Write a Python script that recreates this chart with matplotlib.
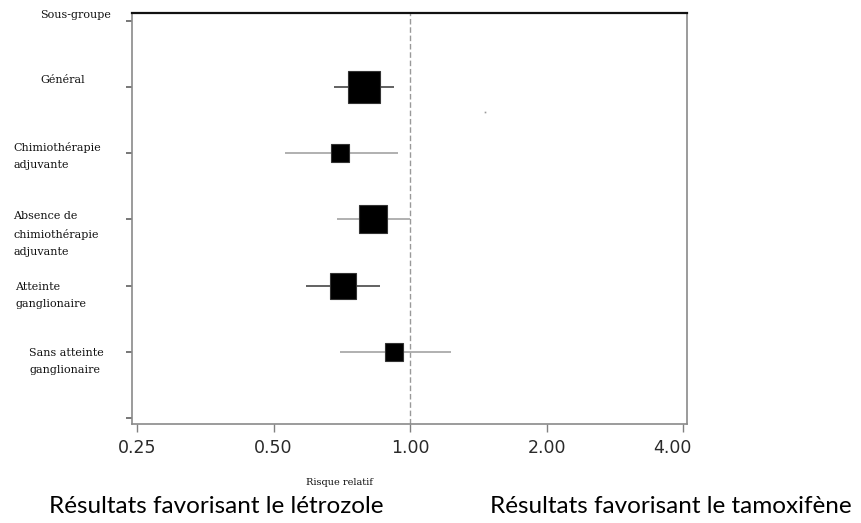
import matplotlib
matplotlib.use("Agg")
import matplotlib.pyplot as plt
import matplotlib.transforms as mtransforms
from matplotlib.ticker import FixedLocator, NullLocator

# ---- data ----
header = "Sous-groupe"
subgroups = ["Général", "Chimiothérapie\nadjuvante", "Absence de\nchimiothérapie\nadjuvante",
             "Atteinte\nganglionaire", "Sans atteinte\nganglionaire"]
rr = [0.79, 0.70, 0.83, 0.71, 0.92]
ci_low = [0.68, 0.53, 0.69, 0.59, 0.70]
ci_high = [0.92, 0.94, 1.00, 0.86, 1.23]
weights = [23, 13, 19.5, 18.7, 13]          # square side (pt), proportional to weight
xticks = [0.25, 0.50, 1.00, 2.00, 4.00]
xtick_labels = ["0.25", "0.50", "1.00", "2.00", "4.00"]
xlabel = "Risque relatif"
left_note = "Résultats favorisant le létrozole"
right_note = "Résultats favorisant le tamoxifène"
stray_point = (1.46, 1.38)

W, H = 861, 523
fig = plt.figure(figsize=(W / 100, H / 100), dpi=100)
ax = fig.add_axes([132 / W, 1 - 424 / H, (687 - 132) / W, (424 - 13) / H])

ci_colors = ["#555555", "#aaaaaa", "#aaaaaa", "#555555", "#aaaaaa"]
ypos = list(range(1, len(subgroups) + 1))
for y, r, lo, hi, w, c in zip(ypos, rr, ci_low, ci_high, weights, ci_colors):
    ax.plot([lo, hi], [y, y], color=c, lw=1.3, solid_capstyle="butt", zorder=2)
    ax.plot([r], [y], marker="s", markersize=w, color="black",
            markeredgecolor="#333333", markeredgewidth=0.8, zorder=3)

ax.plot([stray_point[0]], [stray_point[1]], marker="s", markersize=1.2,
        color="#999999", markeredgewidth=0)

ax.axvline(1.0, color="#999999", lw=1.0, dashes=(4, 2), zorder=1)

ax.set_xscale("log")
ax.set_xlim(0.2437, 4.08)
ax.set_ylim(6.09, -0.12)
ax.xaxis.set_major_locator(FixedLocator(xticks))
ax.xaxis.set_minor_locator(NullLocator())
ax.set_xticklabels(xtick_labels, fontsize=12.5, color="#2a2a2a", family="DejaVu Sans")
ax.set_yticks(range(0, 7))
ax.set_yticklabels([])
ax.tick_params(axis="x", direction="out", length=6, width=1, color="#808080", pad=5)
ax.tick_params(axis="y", direction="out", length=4, width=1.2, color="#606060")
# last tick label sits pulled inward in the reference
last = ax.get_xticklabels()[-1]
last.set_transform(last.get_transform() +
                   mtransforms.ScaledTranslation(-11 / 100, 0, fig.dpi_scale_trans))

for side in ["left", "right", "bottom"]:
    ax.spines[side].set_color("#8a8a8a")
    ax.spines[side].set_linewidth(1.2)
ax.spines["top"].set_color("#111111")
ax.spines["top"].set_linewidth(1.6)

# left labels
serif = dict(family="DejaVu Serif", fontsize=8, color="#111111", va="top",
             ha="left", linespacing=1.87)
label_pos = [(40, 75), (13, 142), (13, 211), (15, 282), (29, 348)]
fig.text(40 / W, 1 - 10 / H, header, **serif)
for txt, (px, py) in zip(subgroups, label_pos):
    fig.text(px / W, 1 - py / H, txt, **serif)

fig.text(339 / W, 1 - 485 / H, xlabel, family="DejaVu Serif", fontsize=7,
         color="#111111", ha="center", va="baseline")

fig.text(216 / W, 1 - 513 / H, left_note, family="Lato", fontsize=17.5,
         color="black", ha="center", va="baseline")
fig.text(671 / W, 1 - 513 / H, right_note, family="Lato", fontsize=17.5,
         color="black", ha="center", va="baseline")

fig.savefig("out.png", dpi=100, facecolor="white")
